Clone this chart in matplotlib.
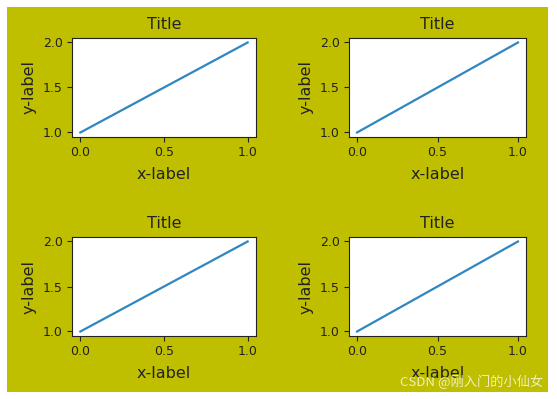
import matplotlib
matplotlib.use("Agg")
import matplotlib.pyplot as plt
from matplotlib.patches import Rectangle

x_vals = [0, 1]
y_vals = [1, 2]
title_text = "Title"
xlabel_text = "x-label"
ylabel_text = "y-label"
watermark = "CSDN @刚入门的小仙女"

W, H = 557, 399
fig = plt.figure(figsize=(W / 100, H / 100), dpi=100, facecolor="white")
fig.patches.append(Rectangle((7 / W, 7 / H), (548 - 7) / W, (392 - 7) / H,
                             transform=fig.transFigure, facecolor="#bfbf00",
                             edgecolor="none", zorder=-10))

txt = "#222222"
# axes boxes in pixels: (left, top, right, bottom)
boxes = [(72, 38, 256, 137), (349, 38, 526, 137),
         (72, 237, 256, 336), (349, 237, 526, 336)]
for (l, t, r, b) in boxes:
    ax = fig.add_axes([l / W, 1 - b / H, (r - l) / W, (b - t) / H])
    ax.plot(x_vals, y_vals, color="#2f86c0", lw=1.6)
    ax.set_title(title_text, fontsize=11.5, pad=6.5, color=txt)
    ax.set_xlabel(xlabel_text, fontsize=11.5, labelpad=6, color=txt)
    ax.set_ylabel(ylabel_text, fontsize=11.5, labelpad=5, color=txt)
    ax.tick_params(labelsize=9, length=3.5, pad=3, labelcolor=txt, color=txt)
    ax.set_xticks([0, 0.5, 1.0])
    ax.set_yticks([1.0, 1.5, 2.0])
    for s in ax.spines.values():
        s.set_color(txt)

fig.text(543 / W, 1 - 382 / H, watermark, ha="right", va="center",
         fontsize=9.5, color="white", alpha=0.75,
         family=["Noto Sans CJK SC", "DejaVu Sans"])

fig.savefig("out.png", dpi=100, facecolor="white")
